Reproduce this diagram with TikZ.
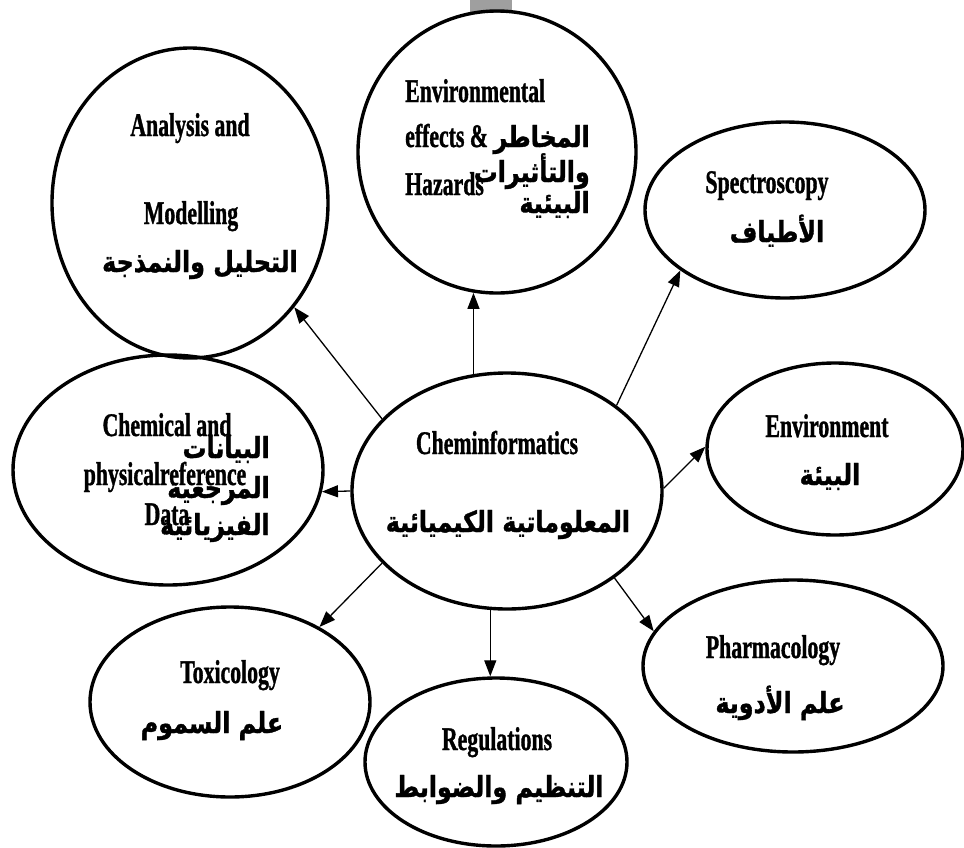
\documentclass[tikz,border=0pt]{standalone}
\usepackage{fontspec}
\usetikzlibrary{shapes.geometric,arrows.meta}
\TeXXeTstate=1
\newfontfamily\enfont[FakeStretch=0.66,FakeBold=1]{Liberation Serif}
\newfontfamily\arfont[Script=Arabic,FakeStretch=0.82,FakeBold=1.2]{DejaVu Sans}
\tikzset{
  bubble/.style={ellipse, draw, line width=3.4pt, inner sep=0pt},
  en/.style={font=\enfont\bfseries\fontsize{33}{36}\selectfont, inner sep=0pt, anchor=base},
  ar/.style={font=\arfont\bfseries\fontsize{29}{32}\selectfont, inner sep=0pt, anchor=base},
  arr/.style={line width=1.3pt, -{Triangle[length=16pt,width=12pt]}}
}
\begin{document}
\begin{tikzpicture}[x=1pt,y=-1pt]
\useasboundingbox (0,0) rectangle (964,847);
\fill[gray!75] (470,0) rectangle (512,13);
% ellipses
\node[bubble, minimum width=276pt, minimum height=310pt] (an) at (190,203) {};
\node[bubble, minimum width=278pt, minimum height=282pt] (ee) at (497,152) {};
\node[bubble, minimum width=280pt, minimum height=176pt] (sp) at (785,210) {};
\node[bubble, minimum width=310pt, minimum height=230pt] (ch) at (168,470) {};
\node[bubble, minimum width=310pt, minimum height=236pt] (c) at (507,491) {};
\node[bubble, minimum width=256pt, minimum height=172pt] (ev) at (835,449) {};
\node[bubble, minimum width=280pt, minimum height=190pt] (tx) at (230,702) {};
\node[bubble, minimum width=262pt, minimum height=168pt] (rg) at (496,762) {};
\node[bubble, minimum width=300pt, minimum height=172pt] (ph) at (793,666) {};
% texts
\node[en] (an1) at (190,136) {Analysis and};
\node[en] (an2) at (191,224) {Modelling};
\node[ar] (an3) at (200,272) {\beginR التحليل والنمذجة\endR};

\node[en, anchor=base west] (ee1) at (405,102) {Environmental};
\node[en, anchor=base west] (ee2) at (405,147) {effects \&};
\node[en, anchor=base west] (ee3) at (405,195) {Hazards};
\node[ar, anchor=base east] (ee4) at (590,147) {\beginR المخاطر\endR};
\node[ar, anchor=base east] (ee5) at (590,182) {\beginR والتأثيرات\endR};
\node[ar, anchor=base east] (ee6) at (590,213) {\beginR البيئية\endR};

\node[en] (sp1) at (767,193) {Spectroscopy};
\node[ar] (sp2) at (777,242) {\beginR الأطياف\endR};

\node[en] (ch1) at (167,436) {Chemical and};
\node[en] (ch2) at (165,485) {physicalreference};
\node[en] (ch3) at (167,525) {Data};
\node[ar, anchor=base east] (ch4) at (270,458) {\beginR البيانات\endR};
\node[ar, anchor=base east] (ch5) at (270,498) {\beginR المرجعية\endR};
\node[ar, anchor=base east] (ch6) at (270,535) {\beginR الفيزيائية\endR};

\node[en] (c1) at (497,454) {Cheminformatics};
\node[ar] (c2) at (508,532) {\beginR المعلوماتية الكيميائية\endR};

\node[en] (ev1) at (827,437) {Environment};
\node[ar] (ev2) at (830,485) {\beginR البيئة\endR};

\node[en] (tx1) at (230,683) {Toxicology};
\node[ar] (tx2) at (212,733) {\beginR علم السموم\endR};

\node[en] (rg1) at (497,750) {Regulations};
\node[ar] (rg2) at (499,797) {\beginR التنظيم والضوابط\endR};

\node[en] (ph1) at (773,658) {Pharmacology};
\node[ar] (ph2) at (780,713) {\beginR علم الأدوية\endR};
% arrows
\draw[arr] (c.150) -- (an.315);
\draw[arr] (c.106) -- (c.106 |- ee.261);
\draw[arr] (c.38) -- (sp.210);
\draw[arr] (c.1) -- (ev.179);
\draw[arr] (c.180) -- (ch.352);
\draw[arr] (c.210) -- (tx.40);
\draw[arr] (c.262) -- (c.262 |- rg.north);
\draw[arr] (c.321) -- (ph.166);
\end{tikzpicture}
\end{document}
